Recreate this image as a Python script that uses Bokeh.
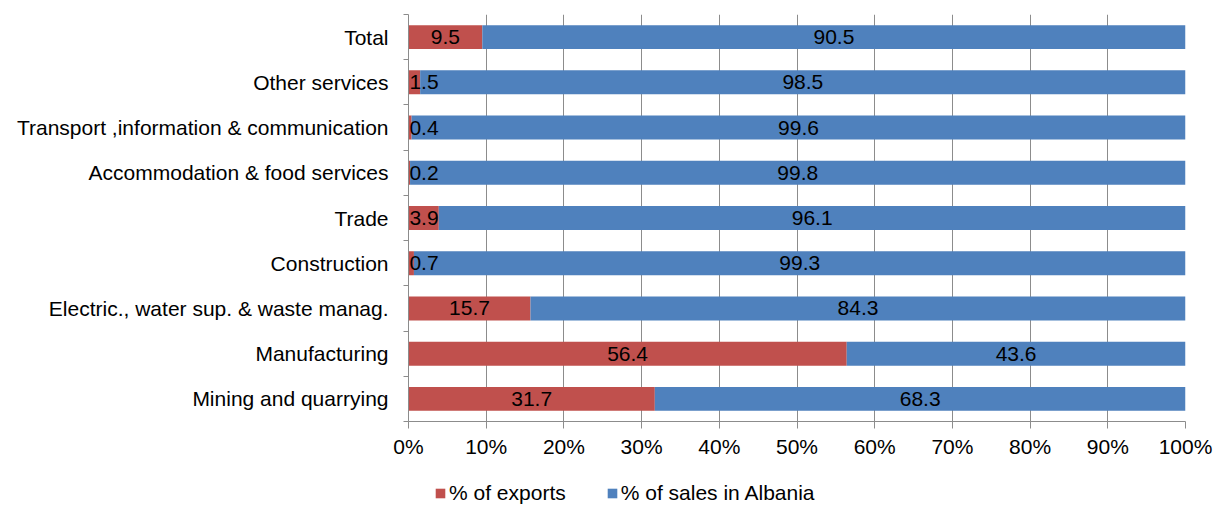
from bokeh.plotting import figure
from bokeh.layouts import column
from bokeh.models import (Range1d, FixedTicker, LinearAxis, Legend, LegendItem,
                          ColumnDataSource, PrintfTickFormatter, Grid)
from bokeh.core.properties import value
from bokeh.embed import file_html
from bokeh.resources import INLINE

# Data (bottom to top)
categories = [
    "Mining and quarrying",
    "Manufacturing",
    "Electric., water sup. & waste manag.",
    "Construction",
    "Trade",
    "Accommodation & food services",
    "Transport ,information & communication",
    "Other services",
    "Total",
]
exports = [31.7, 56.4, 15.7, 0.7, 3.9, 0.2, 0.4, 1.5, 9.5]
sales_albania = [68.3, 43.6, 84.3, 99.3, 96.1, 99.8, 99.6, 98.5, 90.5]
series_names = ["% of exports", "% of sales in Albania"]
x_ticks = [0, 10, 20, 30, 40, 50, 60, 70, 80, 90, 100]

RED = "#C0504D"
BLUE = "#4F81BD"
GRID = "#8C8C8C"
FONT = "Liberation Sans"
FS = "21px"
MIN_LABEL_X = 2.0  # keep tiny-segment labels inside the plot area

n = len(categories)
ypos = [i + 0.5 for i in range(n)]
src = ColumnDataSource(dict(
    y=ypos,
    exp_end=exports,
    sal_end=[e + s for e, s in zip(exports, sales_albania)],
    exp_mid=[max(e / 2, MIN_LABEL_X) for e in exports],
    sal_mid=[e + s / 2 for e, s in zip(exports, sales_albania)],
    exp_lbl=[f"{v:.1f}" for v in exports],
    sal_lbl=[f"{v:.1f}" for v in sales_albania],
))

p = figure(width=1213, height=460, output_backend="svg", toolbar_location=None,
           x_range=Range1d(0, 100), y_range=Range1d(0, n),
           x_axis_type=None, y_axis_type=None,
           min_border_left=408, min_border_right=28, min_border_top=14,
           min_border_bottom=37)
p.outline_line_color = None
p.background_fill_color = "white"
p.border_fill_color = "white"

# axes
xaxis = LinearAxis(ticker=FixedTicker(ticks=x_ticks),
                   formatter=PrintfTickFormatter(format="%d%%"))
xaxis.axis_line_color = GRID
xaxis.major_tick_line_color = GRID
xaxis.major_tick_out = 7
xaxis.major_tick_in = 0
xaxis.minor_tick_line_color = None
xaxis.major_label_text_font = FONT
xaxis.major_label_text_font_size = FS
xaxis.major_label_text_color = "black"
xaxis.major_label_standoff = 6
p.add_layout(xaxis, "below")

yaxis = LinearAxis(ticker=FixedTicker(ticks=ypos, minor_ticks=list(range(n + 1))))
yaxis.major_label_overrides = {y: c for y, c in zip(ypos, categories)}
yaxis.axis_line_color = GRID
yaxis.major_tick_line_color = None
yaxis.major_tick_out = 0
yaxis.major_tick_in = 0
yaxis.minor_tick_line_color = GRID
yaxis.minor_tick_out = 5
yaxis.minor_tick_in = 0
yaxis.major_label_text_font = FONT
yaxis.major_label_text_font_size = FS
yaxis.major_label_text_color = "black"
yaxis.major_label_standoff = 15
p.add_layout(yaxis, "left")

p.add_layout(Grid(dimension=0, ticker=xaxis.ticker, grid_line_color=GRID,
                  grid_line_width=1))

bh = 0.53
p.hbar(y="y", left=0, right="exp_end", height=bh, source=src,
       fill_color=RED, line_color=None)
p.hbar(y="y", left="exp_end", right="sal_end", height=bh, source=src,
       fill_color=BLUE, line_color=None)

for xcol, lcol in (("exp_mid", "exp_lbl"), ("sal_mid", "sal_lbl")):
    p.text(x=xcol, y="y", text=lcol, source=src, text_align="center",
           text_baseline="middle", text_font=value(FONT),
           text_font_size=FS, text_color="black")

# legend strip below the chart (its frame aligns with the chart's frame)
leg = figure(width=1213, height=46, output_backend="svg", toolbar_location=None,
             x_range=Range1d(0, 1), y_range=Range1d(0, 1),
             x_axis_type=None, y_axis_type=None,
             min_border_left=0, min_border_right=0, min_border_top=0,
             min_border_bottom=0)
leg.outline_line_color = None
leg.xgrid.visible = False
leg.ygrid.visible = False
# zero-size proxy bars, used only to give the legend its colour swatches
proxy = ColumnDataSource(dict(y=[0.5], l=[0], r=[0]))
lr_exp = leg.hbar(y="y", left="l", right="r", height=1, source=proxy,
                  fill_color=RED, line_color=None)
lr_sal = leg.hbar(y="y", left="l", right="r", height=1, source=proxy,
                  fill_color=BLUE, line_color=None)

legend = Legend(items=[LegendItem(label=series_names[0], renderers=[lr_exp]),
                       LegendItem(label=series_names[1], renderers=[lr_sal])],
                orientation="horizontal", location=(26, 1),
                glyph_width=12, glyph_height=12, label_standoff=3, spacing=40,
                padding=0, margin=0, border_line_color=None,
                background_fill_alpha=0,
                label_text_font=FONT, label_text_font_size=FS,
                label_text_color="black")
leg.add_layout(legend, "center")

layout = column(p, leg, spacing=0)
open("out.html", "w").write(file_html(layout, INLINE))
